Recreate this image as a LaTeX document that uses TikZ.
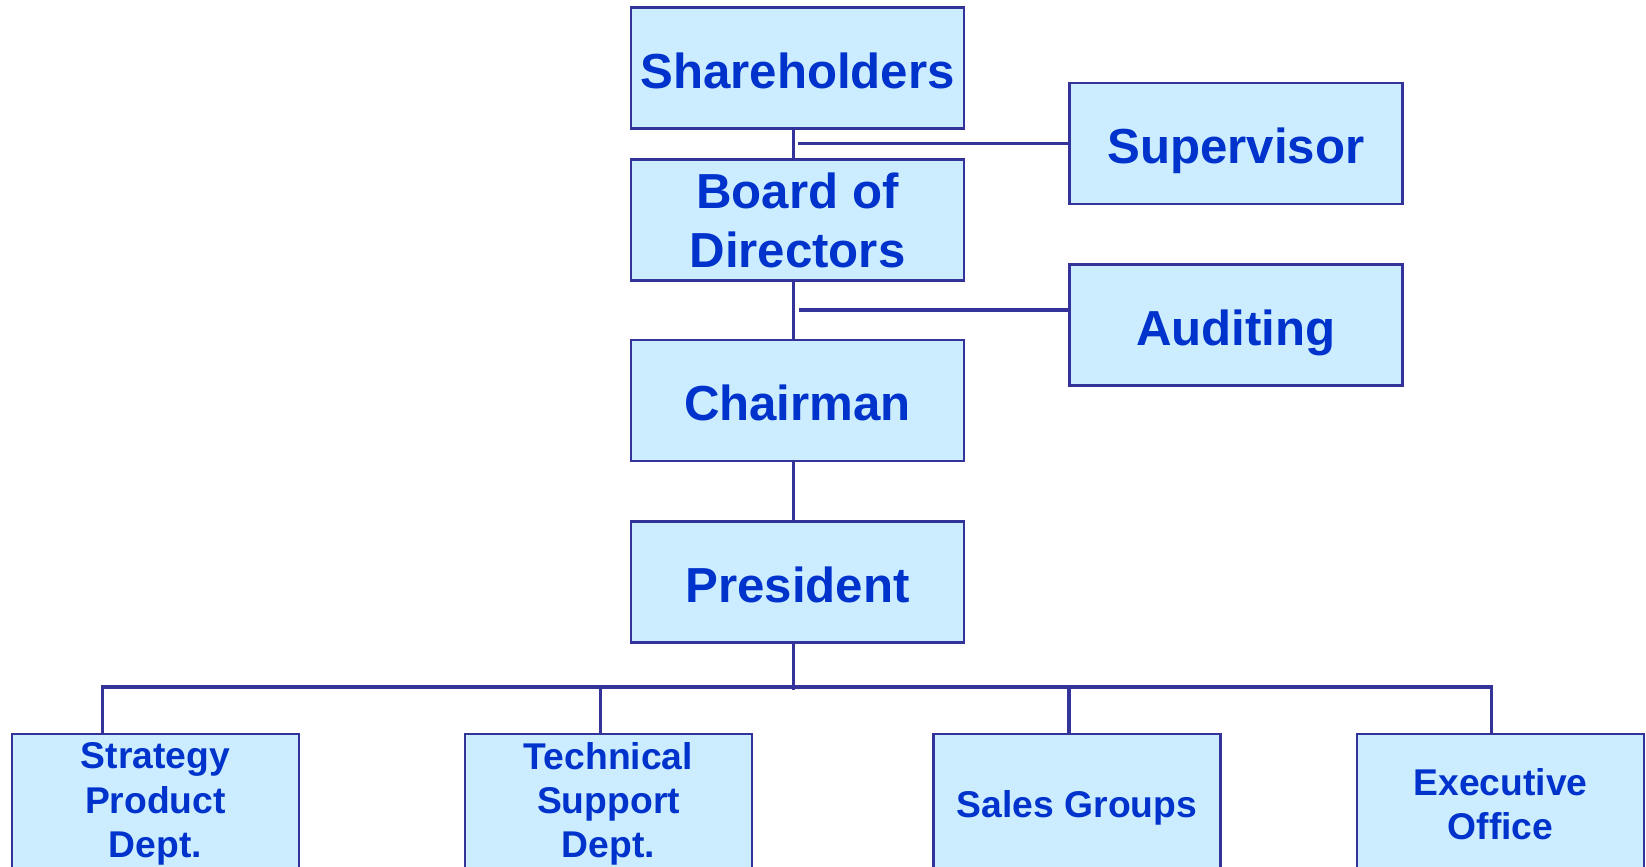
\documentclass[tikz,border=0pt]{standalone}
\usepackage{fontspec}
\setmainfont{Liberation Sans}
\definecolor{boxfill}{HTML}{CCECFF}
\definecolor{boxline}{HTML}{333399}
\definecolor{boxtext}{HTML}{0033CC}
\tikzset{
    bigbox/.style={rectangle,draw=boxline,fill=boxfill,line width=0.6pt,text=boxtext,
        minimum width=3.33cm,minimum height=1.21cm,inner sep=0pt,align=center,
        font=\fontsize{14}{16.8}\selectfont\bfseries},
    deptbox/.style={rectangle,draw=boxline,fill=boxfill,line width=0.6pt,text=boxtext,
        minimum width=2.87cm,minimum height=1.40cm,inner sep=0pt,align=center,
        font=\fontsize{10.6}{12.6}\selectfont\bfseries},
    oneline/.style={text height=11.4pt,text depth=0pt},
    link/.style={draw=boxline,line width=1.1pt}
}
\begin{document}
\begin{tikzpicture}
    \useasboundingbox (-7.975,0.68) rectangle (8.485,-7.99) ;
    \clip (-7.975,0.68) rectangle (8.485,-7.99) ;

    \node[bigbox,oneline] (share) at (0,0) {Shareholders} ;
    \node[yshift=-1.52cm,bigbox] (board) at (share) {Board of\\Directors} ;
    \node[yshift=-1.805cm,bigbox,oneline] (chair) at (board) {Chairman} ;
    \node[yshift=-1.815cm,bigbox,oneline] (pres) at (chair) {President} ;
    \node[xshift=4.385cm,yshift=-0.755cm,bigbox,oneline] (sup) at (share) {Supervisor} ;
    \node[yshift=-1.815cm,bigbox,oneline] (aud) at (sup) {Auditing} ;

    \node[xshift=-6.42cm,yshift=-2.22cm,deptbox] (strat) at (pres) {Strategy\\Product\\Dept.} ;
    \node[xshift=-1.89cm,yshift=-2.22cm,deptbox] (tech) at (pres) {Technical\\Support\\Dept.} ;
    \node[xshift=2.795cm,yshift=-2.22cm,deptbox,text height=7.6pt,text depth=0pt] (sales) at (pres) {Sales Groups} ;
    \node[xshift=7.03cm,yshift=-2.22cm,deptbox] (exec) at (pres) {Executive\\Office} ;

    % main line
    \draw[link] ([xshift=-0.4mm]share.south) -- ([xshift=-0.4mm]board.north) ;
    \draw[link] ([xshift=-0.4mm]board.south) -- ([xshift=-0.4mm]chair.north) ;
    \draw[link] ([xshift=-0.4mm]chair.south) -- ([xshift=-0.4mm]pres.north) ;

    % side boxes
    \coordinate[yshift=1.5mm] (aud_in) at (aud.west) ;
    \coordinate[xshift=0.1mm] (aud_out) at (board.south) ;
    \draw[link] (sup.west) -- (sup.west -| share.south) ;
    \draw[link] (aud_in) -- (aud_in -| aud_out) ;

    % departments
    \coordinate[xshift=-5.3mm] (strat_up) at (strat.north) ;
    \coordinate[xshift=-0.8mm] (tech_up) at (tech.north) ;
    \coordinate[xshift=-0.8mm] (sales_up) at (sales.north) ;
    \coordinate[xshift=-0.9mm] (exec_up) at (exec.north) ;
    \draw[link] ([xshift=-0.4mm]pres.south) -- ++(0,-0.46) ;
    \draw[link] (strat_up) -- ++(0,0.46) -| (exec_up) ;
    \draw[link] (tech_up) -- ++(0,0.46) ;
    \draw[link] (sales_up) -- ++(0,0.46) ;
\end{tikzpicture}
\end{document}
